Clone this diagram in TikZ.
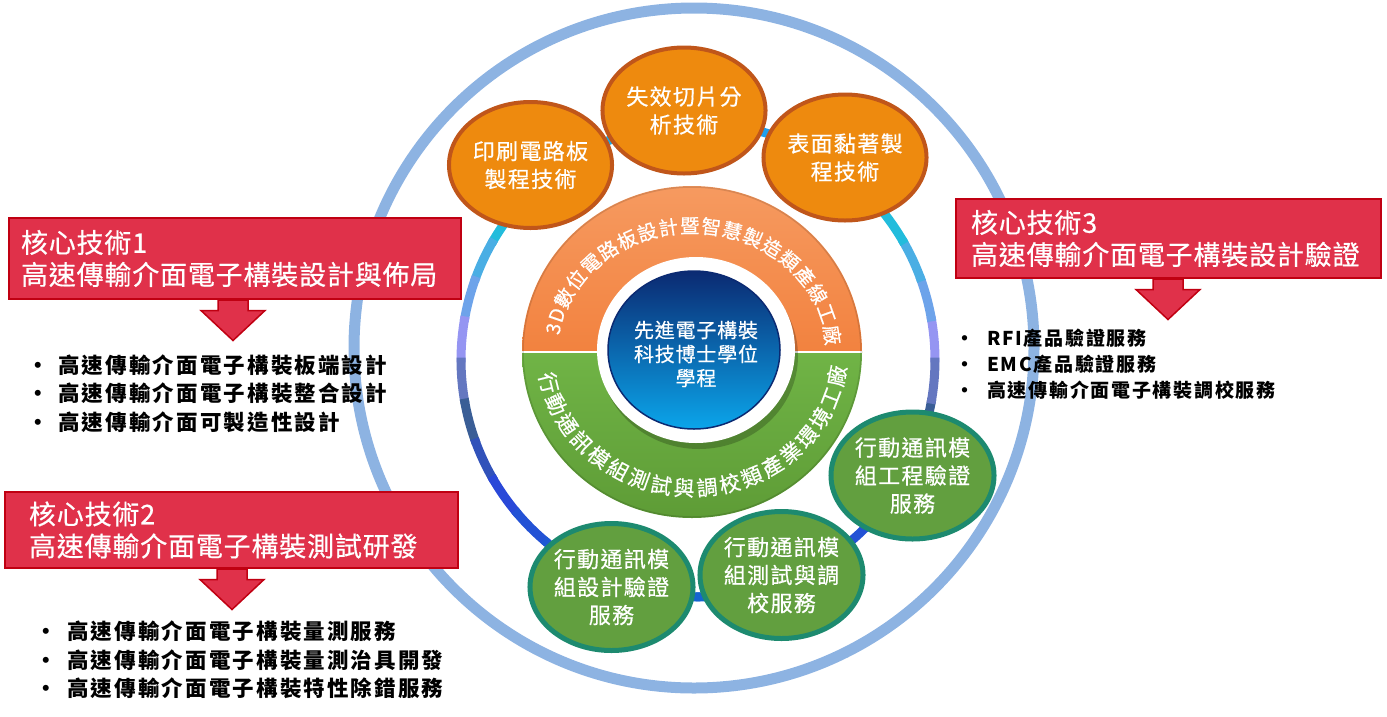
\documentclass[tikz,border=0pt]{standalone}
\usepackage{fontspec}
\usetikzlibrary{shapes.geometric,decorations.text,calc}
\newfontfamily\cjk[FakeBold=0.5]{Noto Sans CJK TC}
\newfontfamily\cjkT[LetterSpace=3,FakeBold=0.5]{Noto Sans CJK TC}
\newfontfamily\cjkL[LetterSpace=10]{Noto Sans CJK TC}
\newfontfamily\cjkS[LetterSpace=9]{Noto Sans CJK TC}
\newfontfamily\cjkC[LetterSpace=6,FakeBold=0.5]{Noto Sans CJK TC}
\newfontfamily\cjkM[LetterSpace=4,FakeBold=0.5]{Noto Sans CJK TC}
\newcommand\titlefont{\cjkT\fontsize{27}{32}\selectfont}
\newcommand\listfont{\cjkL\bfseries\fontsize{21.5}{28.5}\selectfont}
\newcommand\listfontS{\cjkS\bfseries\fontsize{19}{26}\selectfont}
\newcommand\circfont{\cjkC\fontsize{22}{28}\selectfont}
\newcommand\centfont{\cjkM\fontsize{20}{24}\selectfont}
\newcommand\arcfont{\cjk\fontsize{19.5}{24}\selectfont}
\newcommand\arcfontB{\cjk\fontsize{21}{24}\selectfont}
\newcommand\blt[1]{\makebox[#1][l]{\hspace{-8pt}•}}
\definecolor{ringout}{HTML}{8DB3E2}
\definecolor{topC}{HTML}{1E9FEE}
\definecolor{cyanC}{HTML}{22BCDC}
\definecolor{lavC}{HTML}{9595F2}
\definecolor{steelC}{HTML}{3A5E96}
\definecolor{royalC}{HTML}{2A48D8}
\definecolor{botC}{HTML}{1565D0}
\definecolor{boxred}{HTML}{E0314A}
\definecolor{boxedge}{HTML}{C00012}
\definecolor{orfill}{HTML}{EE8A0E}
\definecolor{oredge}{HTML}{C0561A}
\definecolor{grfill}{HTML}{629F3F}
\definecolor{gredge}{HTML}{1D8A6F}
\definecolor{diskOa}{HTML}{F69A60}
\definecolor{diskOb}{HTML}{F2823F}
\definecolor{diskGa}{HTML}{70B446}
\definecolor{diskGb}{HTML}{5E9C36}
\definecolor{navy}{HTML}{0B2A72}
\definecolor{midblue}{HTML}{1562B5}
\definecolor{sky}{HTML}{0BA5EA}
\begin{document}
\begin{tikzpicture}[x=1pt,y=1pt,
  boxstyle/.style={draw=boxedge, line width=2, fill=boxred, text=white, anchor=north west, align=left, inner ysep=0, font=\titlefont},
  redarrow/.style={fill=boxred, draw=boxedge, line width=1.5, line join=miter},
  orcirc/.style={ellipse, draw=oredge, line width=4, fill=orfill, text=white, align=center, inner sep=0, font=\circfont, minimum width=141, minimum height=126},
  grcirc/.style={ellipse, draw=gredge, line width=5, fill=grfill, text=white, align=center, inner sep=0, font=\circfont, minimum width=156, minimum height=127},
  listtext/.style={anchor=west, align=left, text=black, inner sep=0, font=\listfont},
  arctext/.style={decorate, decoration={text along path, text color=white, text align={fit to path}}}
]
\useasboundingbox (0,0) rectangle (1387,-716);

% outer ring
\coordinate (oc) at (694,-348);
\draw[ringout, line width=11] (oc) circle[radius=340];

% inner ring
\coordinate (ic) at (698,-360);
\foreach \m/\c in {5/lavC, 15/lavC!65!cyanC, 25/lavC!35!cyanC, 35/cyanC, 45/cyanC, 55/cyanC!70!topC, 65/cyanC!40!topC, 75/topC, 85/topC, 95/topC, 105/topC, 115/cyanC!40!topC, 125/cyanC!70!topC, 135/cyanC, 145/cyanC, 155/lavC!35!cyanC, 165/lavC!65!cyanC, 175/lavC, 185/lavC!46!steelC, 195/steelC, 205/steelC!45!royalC, 215/royalC, 225/royalC!65!botC, 235/royalC!40!botC, 245/botC, 255/botC, 265/botC, 275/botC, 285/botC, 295/botC, 305/royalC!40!botC, 315/royalC!65!botC, 325/royalC, 335/steelC!45!royalC, 345/steelC, 355/lavC!46!steelC}
  \draw[color=\c, line width=9] ($(ic)+({\m-5.6}:237)$) arc[start angle={\m-5.6}, end angle={\m+5.6}, radius=237];

% central disk
\coordinate (dc) at (692,-352);
\shade[top color=diskOa, bottom color=diskOb] ($(dc)+(-170,0)$) arc[start angle=180, end angle=0, x radius=170, y radius=166] -- cycle;
\shade[top color=diskGa, bottom color=diskGb] ($(dc)+(-170,0)$) arc[start angle=180, end angle=360, x radius=170, y radius=166] -- cycle;
\draw[white, line width=1.2] ($(dc)+(-170,0)$) -- ($(dc)+(170,0)$);
\draw[black, opacity=.12, line width=1.5] (dc) ellipse[x radius=169, y radius=165];

\coordinate (wc) at (696,-350);
\fill[black, opacity=.22] ($(wc)+(3,-6)$) ellipse[x radius=99, y radius=93];
\fill[white] (wc) ellipse[x radius=99, y radius=93];
\coordinate (bc) at (694,-350);
\shade[top color=navy, middle color=midblue, bottom color=sky, draw=navy, line width=1.5] (bc) ellipse[x radius=86, y radius=79];
\node[text=white, align=center, inner sep=0, font=\centfont] (ct) at (696,-354) {先進電子構裝\\科技博士學位\\學程};

% arc texts
\path[arctext, decoration={text={|\arcfont|3D數位電路板設計暨智慧製造類產線工廠}}]
  ($(dc)+(172:134 and 119)$) arc[start angle=172, end angle=3, x radius=134, y radius=119];
\path[arctext, decoration={text={|\arcfontB|行動通訊模組測試與調校類產業環境工廠}}]
  ($(dc)+(189:155 and 144)$) arc[start angle=189, end angle=354, x radius=155, y radius=144];

% orange circles
\node[orcirc] (o1) at (530.5,-165) {印刷電路板\\製程技術};
\node[orcirc] (o2) at (684,-110.5) {失效切片分\\析技術};
\node[orcirc] (o3) at (845,-157.5) {表面黏著製\\程技術};

% green circles
\node[grcirc] (g1) at (611.5,-587) {行動通訊模\\組設計驗證\\服務};
\node[grcirc] (g2) at (781.5,-575) {行動通訊模\\組測試與調\\校服務};
\node[grcirc] (g3) at (912.5,-475.5) {行動通訊模\\組工程驗證\\服務};

% red boxes
\node[boxstyle, inner xsep=12, text width=428, minimum width=452, minimum height=81] (b1) at (8,-217) {核心技術1\\高速傳輸介面電子構裝設計與佈局};
\node[boxstyle, inner xsep=15, text width=395, minimum width=425, minimum height=79] (b3) at (955,-198) {核心技術3\\高速傳輸介面電子構裝設計驗證};
\node[boxstyle, inner xsep=24, text width=405, minimum width=453, minimum height=76] (b2) at (4,-491) {核心技術2\\高速傳輸介面電子構裝測試研發};

% block arrows
\foreach \b/\cx in {b1/225, b3/213, b2/228}
  \draw[redarrow] ($(\b.south west)+(\cx-15,0)$) -- ++(0,-10.5) -- ++(-17,0) -- ++(32,-30) -- ++(32,30) -- ++(-17,0) -- ++(0,10.5) -- cycle;

% lists
\node[listtext] (l1) at (35,-393.5) {\blt{23pt}高速傳輸介面電子構裝板端設計\\\blt{23pt}高速傳輸介面電子構裝整合設計\\\blt{23pt}高速傳輸介面可製造性設計};
\node[listtext] (l2) at (43,-660) {\blt{24pt}高速傳輸介面電子構裝量測服務\\\blt{24pt}高速傳輸介面電子構裝量測治具開發\\\blt{24pt}高速傳輸介面電子構裝特性除錯服務};
\node[listtext, font=\listfontS] (l3) at (963,-364) {\blt{24pt}RFI產品驗證服務\\\blt{24pt}EMC產品驗證服務\\\blt{24pt}高速傳輸介面電子構裝調校服務};
\end{tikzpicture}
\end{document}
